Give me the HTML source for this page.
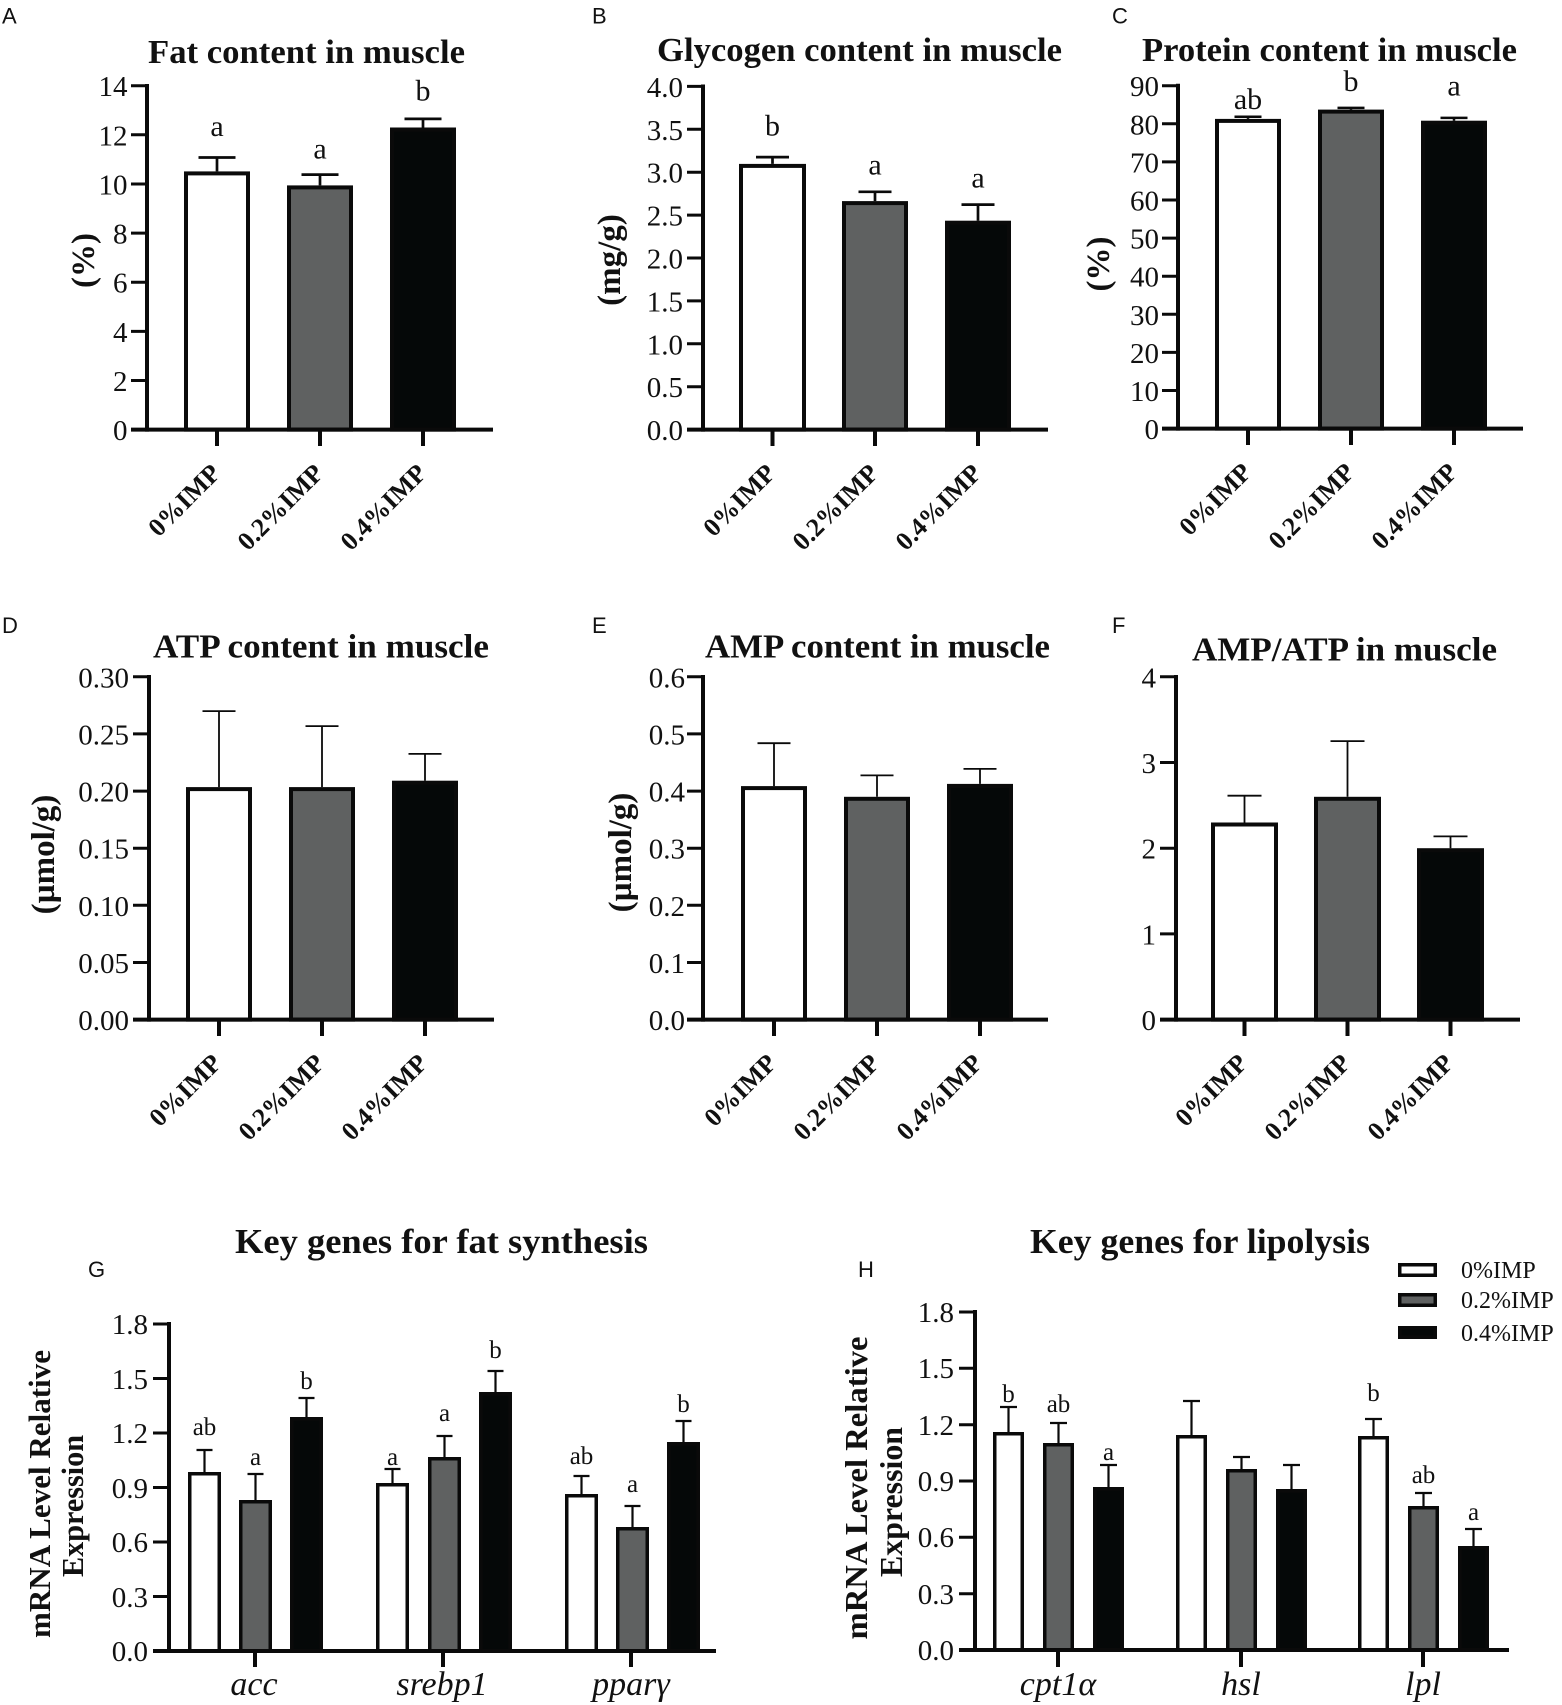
<!DOCTYPE html>
<html>
<head>
<meta charset="utf-8">
<style>
  html,body{margin:0;padding:0;background:#fff;}
  svg{display:block;}
  .t{font-family:"Liberation Serif","Times New Roman",serif;}
  .tb{font-family:"Liberation Serif","Times New Roman",serif;font-weight:bold;}
  .tick{font-family:"Liberation Serif","Times New Roman",serif;font-size:29px;fill:#111;text-anchor:end;}
  .let{font-family:"Liberation Serif","Times New Roman",serif;font-size:30px;fill:#111;text-anchor:middle;}
  .letg{font-family:"Liberation Serif","Times New Roman",serif;font-size:25px;fill:#111;text-anchor:middle;}
  .xl{font-family:"Liberation Serif","Times New Roman",serif;font-weight:bold;font-size:26px;fill:#111;text-anchor:end;}
  .pl{font-family:"Liberation Sans",Arial,sans-serif;font-size:22px;fill:#111;}
  .gi{font-family:"Liberation Serif","Times New Roman",serif;font-style:italic;font-size:34px;fill:#111;text-anchor:middle;}
</style>
</head>
<body>
<svg width="1562" height="1705" viewBox="0 0 1562 1705" xmlns="http://www.w3.org/2000/svg">
<rect width="1562" height="1705" fill="#fff"/>

<!-- Panel letters -->
<text class="pl" x="2" y="23.5">A</text>
<text class="pl" x="592" y="23.5">B</text>
<text class="pl" x="1112" y="23.5">C</text>
<text class="pl" x="2" y="633">D</text>
<text class="pl" x="592" y="633">E</text>
<text class="pl" x="1112" y="633">F</text>
<text class="pl" x="88" y="1277">G</text>
<text class="pl" x="858" y="1277">H</text>

<!-- Titles -->
<g class="tb" font-size="34" fill="#111">
  <text x="148" y="63" textLength="317" lengthAdjust="spacingAndGlyphs">Fat content in muscle</text>
  <text x="657" y="61" textLength="405" lengthAdjust="spacingAndGlyphs">Glycogen content in muscle</text>
  <text x="1142" y="61" textLength="375" lengthAdjust="spacingAndGlyphs">Protein content in muscle</text>
  <text x="153" y="657.5" textLength="336" lengthAdjust="spacingAndGlyphs">ATP content in muscle</text>
  <text x="705" y="657.5" textLength="345" lengthAdjust="spacingAndGlyphs">AMP content in muscle</text>
  <text x="1192" y="660.5" textLength="305" lengthAdjust="spacingAndGlyphs">AMP/ATP in muscle</text>
</g>
<g class="tb" font-size="35" fill="#111">
  <text x="235" y="1253" textLength="413" lengthAdjust="spacingAndGlyphs">Key genes for fat synthesis</text>
  <text x="1030" y="1253" textLength="340" lengthAdjust="spacingAndGlyphs">Key genes for lipolysis</text>
</g>

<!-- Y axis labels -->
<g class="tb" font-size="33" fill="#111" text-anchor="middle">
  <text transform="translate(94,260.5) rotate(-90)">(%)</text>
  <text transform="translate(620,260) rotate(-90)">(mg/g)</text>
  <text transform="translate(1109,264) rotate(-90)">(%)</text>
  <text transform="translate(54,854.5) rotate(-90)">(µmol/g)</text>
  <text transform="translate(631,852.5) rotate(-90)">(µmol/g)</text>
</g>
<g class="tb" fill="#111" text-anchor="middle">
  <text font-size="31" transform="translate(50,1494) rotate(-90)" textLength="288" lengthAdjust="spacingAndGlyphs">mRNA Level Relative</text>
  <text font-size="31" transform="translate(83,1506) rotate(-90)" textLength="142" lengthAdjust="spacingAndGlyphs">Expression</text>
  <text font-size="32" transform="translate(867,1488) rotate(-90)" textLength="303" lengthAdjust="spacingAndGlyphs">mRNA Level Relative</text>
  <text font-size="32" transform="translate(902,1502) rotate(-90)" textLength="150" lengthAdjust="spacingAndGlyphs">Expression</text>
</g>

<!-- ================= Panel A ================= -->
<g>
  <rect x="186" y="173.4" width="62" height="256.2" fill="#ffffff" stroke="#0a0a0a" stroke-width="4"/>
  <rect x="289" y="187.4" width="62" height="242.2" fill="#5f6161" stroke="#0a0a0a" stroke-width="4"/>
  <rect x="392" y="129.5" width="62" height="300.1" fill="#050808" stroke="#0a0a0a" stroke-width="4"/>
  <g stroke="#0a0a0a" stroke-width="2.7" fill="none">
    <path d="M217 171.4V157.5M198.5 157.5H235.5"/>
    <path d="M320 185.4V174.6M301.5 174.6H338.5"/>
    <path d="M423 127.5V118.9M404.5 118.9H441.5"/>
  </g>
  <g stroke="#0a0a0a" stroke-width="4" fill="none">
    <path d="M147 84V431.6"/>
    <path d="M131 429.6H493"/>
    <path d="M217 429.6V446M320 429.6V446M423 429.6V446"/>
  </g>
  <g stroke="#0a0a0a" stroke-width="3">
    <path d="M131 85.7H147M131 134.8H147M131 184H147M131 233.1H147M131 282.2H147M131 331.4H147M131 380.5H147"/>
  </g>
  <text class="tick" x="127.5" y="96.2">14</text>
  <text class="tick" x="127.5" y="145.3">12</text>
  <text class="tick" x="127.5" y="194.5">10</text>
  <text class="tick" x="127.5" y="243.6">8</text>
  <text class="tick" x="127.5" y="292.7">6</text>
  <text class="tick" x="127.5" y="341.9">4</text>
  <text class="tick" x="127.5" y="391">2</text>
  <text class="tick" x="127.5" y="440.1">0</text>
  <text class="let" x="217" y="136">a</text>
  <text class="let" x="320" y="158.5">a</text>
  <text class="let" x="423" y="100.5">b</text>
  <text class="xl" transform="translate(222,474.6) rotate(-45)">0%IMP</text>
  <text class="xl" transform="translate(325,474.6) rotate(-45)">0.2%IMP</text>
  <text class="xl" transform="translate(428,474.6) rotate(-45)">0.4%IMP</text>
</g>

<!-- ================= Panel B ================= -->
<g>
  <rect x="741" y="165.9" width="63" height="263.7" fill="#ffffff" stroke="#0a0a0a" stroke-width="4"/>
  <rect x="844" y="203.1" width="62" height="226.5" fill="#5f6161" stroke="#0a0a0a" stroke-width="4"/>
  <rect x="947" y="222.7" width="62" height="206.9" fill="#050808" stroke="#0a0a0a" stroke-width="4"/>
  <g stroke="#0a0a0a" stroke-width="2.7" fill="none">
    <path d="M772.5 163.9V157.1M756 157.1H789"/>
    <path d="M875 201.1V191.8M858.5 191.8H891.5"/>
    <path d="M978 220.7V204.6M961.5 204.6H994.5"/>
  </g>
  <g stroke="#0a0a0a" stroke-width="4" fill="none">
    <path d="M703 84.5V431.6"/>
    <path d="M687 429.6H1048"/>
    <path d="M772.5 429.6V446M875 429.6V446M978 429.6V446"/>
  </g>
  <g stroke="#0a0a0a" stroke-width="3">
    <path d="M687 86.4H703M687 129.3H703M687 172.2H703M687 215.1H703M687 258H703M687 300.9H703M687 343.8H703M687 386.7H703"/>
  </g>
  <text class="tick" x="683" y="96.9">4.0</text>
  <text class="tick" x="683" y="139.8">3.5</text>
  <text class="tick" x="683" y="182.7">3.0</text>
  <text class="tick" x="683" y="225.6">2.5</text>
  <text class="tick" x="683" y="268.5">2.0</text>
  <text class="tick" x="683" y="311.4">1.5</text>
  <text class="tick" x="683" y="354.3">1.0</text>
  <text class="tick" x="683" y="397.2">0.5</text>
  <text class="tick" x="683" y="440.1">0.0</text>
  <text class="let" x="772.5" y="135.7">b</text>
  <text class="let" x="875" y="174.3">a</text>
  <text class="let" x="978" y="187.5">a</text>
  <text class="xl" transform="translate(777,474.6) rotate(-45)">0%IMP</text>
  <text class="xl" transform="translate(880,474.6) rotate(-45)">0.2%IMP</text>
  <text class="xl" transform="translate(983,474.6) rotate(-45)">0.4%IMP</text>
</g>

<!-- ================= Panel C ================= -->
<g>
  <rect x="1217" y="120.9" width="62" height="307.7" fill="#ffffff" stroke="#0a0a0a" stroke-width="4"/>
  <rect x="1320" y="111.6" width="62" height="317" fill="#5f6161" stroke="#0a0a0a" stroke-width="4"/>
  <rect x="1423" y="122.7" width="62" height="305.9" fill="#050808" stroke="#0a0a0a" stroke-width="4"/>
  <g stroke="#0a0a0a" stroke-width="2.5" fill="none">
    <path d="M1248 118.9V116.8M1234.5 116.8H1261.5"/>
    <path d="M1351 109.6V107.9M1337.5 107.9H1364.5"/>
    <path d="M1454 120.7V117.9M1440.5 117.9H1467.5"/>
  </g>
  <g stroke="#0a0a0a" stroke-width="4" fill="none">
    <path d="M1178 83.8V430.6"/>
    <path d="M1162 428.6H1523"/>
    <path d="M1248 428.6V445M1351 428.6V445M1454 428.6V445"/>
  </g>
  <g stroke="#0a0a0a" stroke-width="3">
    <path d="M1162 85.7H1178M1162 123.8H1178M1162 161.9H1178M1162 200H1178M1162 238.1H1178M1162 276.2H1178M1162 314.3H1178M1162 352.4H1178M1162 390.5H1178"/>
  </g>
  <text class="tick" x="1159" y="96.2">90</text>
  <text class="tick" x="1159" y="134.3">80</text>
  <text class="tick" x="1159" y="172.4">70</text>
  <text class="tick" x="1159" y="210.5">60</text>
  <text class="tick" x="1159" y="248.6">50</text>
  <text class="tick" x="1159" y="286.7">40</text>
  <text class="tick" x="1159" y="324.8">30</text>
  <text class="tick" x="1159" y="362.9">20</text>
  <text class="tick" x="1159" y="401">10</text>
  <text class="tick" x="1159" y="439.1">0</text>
  <text class="let" x="1248" y="109">ab</text>
  <text class="let" x="1351" y="91">b</text>
  <text class="let" x="1454" y="95.7">a</text>
  <text class="xl" transform="translate(1253,473.6) rotate(-45)">0%IMP</text>
  <text class="xl" transform="translate(1356,473.6) rotate(-45)">0.2%IMP</text>
  <text class="xl" transform="translate(1459,473.6) rotate(-45)">0.4%IMP</text>
</g>

<!-- ================= Panel D ================= -->
<g>
  <rect x="188" y="789.1" width="62" height="230.5" fill="#ffffff" stroke="#0a0a0a" stroke-width="4"/>
  <rect x="291" y="789.1" width="62" height="230.5" fill="#5f6161" stroke="#0a0a0a" stroke-width="4"/>
  <rect x="394" y="782.7" width="62" height="236.9" fill="#050808" stroke="#0a0a0a" stroke-width="4"/>
  <g stroke="#0a0a0a" stroke-width="1.8" fill="none">
    <path d="M219 787.1V711.1M202.5 711.1H235.5"/>
    <path d="M322 787.1V726.1M305.5 726.1H338.5"/>
    <path d="M425 780.7V753.9M408.5 753.9H441.5"/>
  </g>
  <g stroke="#0a0a0a" stroke-width="4" fill="none">
    <path d="M149 675V1021.6"/>
    <path d="M133 1019.6H494"/>
    <path d="M219 1019.6V1036M322 1019.6V1036M425 1019.6V1036"/>
  </g>
  <g stroke="#0a0a0a" stroke-width="3">
    <path d="M133 676.8H149M133 733.9H149M133 791.1H149M133 848.2H149M133 905.3H149M133 962.5H149"/>
  </g>
  <text class="tick" x="129" y="687.3">0.30</text>
  <text class="tick" x="129" y="744.4">0.25</text>
  <text class="tick" x="129" y="801.6">0.20</text>
  <text class="tick" x="129" y="858.7">0.15</text>
  <text class="tick" x="129" y="915.8">0.10</text>
  <text class="tick" x="129" y="973">0.05</text>
  <text class="tick" x="129" y="1030.1">0.00</text>
  <text class="xl" transform="translate(223,1064.6) rotate(-45)">0%IMP</text>
  <text class="xl" transform="translate(326,1064.6) rotate(-45)">0.2%IMP</text>
  <text class="xl" transform="translate(429,1064.6) rotate(-45)">0.4%IMP</text>
</g>

<!-- ================= Panel E ================= -->
<g>
  <rect x="743" y="788.1" width="62" height="231.5" fill="#ffffff" stroke="#0a0a0a" stroke-width="4"/>
  <rect x="846" y="798.8" width="62" height="220.8" fill="#5f6161" stroke="#0a0a0a" stroke-width="4"/>
  <rect x="949" y="785.9" width="62" height="233.7" fill="#050808" stroke="#0a0a0a" stroke-width="4"/>
  <g stroke="#0a0a0a" stroke-width="1.8" fill="none">
    <path d="M774 786.1V743.2M757.5 743.2H790.5"/>
    <path d="M877 796.8V775.4M860.5 775.4H893.5"/>
    <path d="M980 783.9V768.9M963.5 768.9H996.5"/>
  </g>
  <g stroke="#0a0a0a" stroke-width="4" fill="none">
    <path d="M703 675V1021.6"/>
    <path d="M687 1019.6H1048"/>
    <path d="M774 1019.6V1036M877 1019.6V1036M980 1019.6V1036"/>
  </g>
  <g stroke="#0a0a0a" stroke-width="3">
    <path d="M687 676.8H703M687 733.9H703M687 791.1H703M687 848.2H703M687 905.3H703M687 962.5H703"/>
  </g>
  <text class="tick" x="685" y="687.3">0.6</text>
  <text class="tick" x="685" y="744.4">0.5</text>
  <text class="tick" x="685" y="801.6">0.4</text>
  <text class="tick" x="685" y="858.7">0.3</text>
  <text class="tick" x="685" y="915.8">0.2</text>
  <text class="tick" x="685" y="973">0.1</text>
  <text class="tick" x="685" y="1030.1">0.0</text>
  <text class="xl" transform="translate(778,1064.6) rotate(-45)">0%IMP</text>
  <text class="xl" transform="translate(881,1064.6) rotate(-45)">0.2%IMP</text>
  <text class="xl" transform="translate(984,1064.6) rotate(-45)">0.4%IMP</text>
</g>

<!-- ================= Panel F ================= -->
<g>
  <rect x="1213" y="824.5" width="63" height="195.1" fill="#ffffff" stroke="#0a0a0a" stroke-width="4"/>
  <rect x="1316" y="798.8" width="63" height="220.8" fill="#5f6161" stroke="#0a0a0a" stroke-width="4"/>
  <rect x="1419" y="850.2" width="63" height="169.4" fill="#050808" stroke="#0a0a0a" stroke-width="4"/>
  <g stroke="#0a0a0a" stroke-width="1.8" fill="none">
    <path d="M1244.5 822.5V795.7M1227.5 795.7H1261.5"/>
    <path d="M1347.5 796.8V741.1M1330.5 741.1H1364.5"/>
    <path d="M1450.5 848.2V836.4M1433.5 836.4H1467.5"/>
  </g>
  <g stroke="#0a0a0a" stroke-width="4" fill="none">
    <path d="M1176 675V1021.6"/>
    <path d="M1160 1019.6H1520"/>
    <path d="M1244.5 1019.6V1036M1347.5 1019.6V1036M1450.5 1019.6V1036"/>
  </g>
  <g stroke="#0a0a0a" stroke-width="3">
    <path d="M1160 676.8H1176M1160 762.5H1176M1160 848.2H1176M1160 933.9H1176"/>
  </g>
  <text class="tick" x="1156" y="687.3">4</text>
  <text class="tick" x="1156" y="773">3</text>
  <text class="tick" x="1156" y="858.7">2</text>
  <text class="tick" x="1156" y="944.4">1</text>
  <text class="tick" x="1156" y="1030.1">0</text>
  <text class="xl" transform="translate(1249,1064.6) rotate(-45)">0%IMP</text>
  <text class="xl" transform="translate(1352,1064.6) rotate(-45)">0.2%IMP</text>
  <text class="xl" transform="translate(1455,1064.6) rotate(-45)">0.4%IMP</text>
</g>

<!-- ================= Panel G ================= -->
<g>
  <g stroke="#0a0a0a" stroke-width="3.5">
    <rect x="189.75" y="1473.75" width="29.5" height="177.25" fill="#ffffff"/>
    <rect x="240.75" y="1501.75" width="29.5" height="149.25" fill="#5f6161"/>
    <rect x="291.75" y="1418.75" width="29.5" height="232.25" fill="#050808"/>
    <rect x="377.75" y="1484.75" width="29.5" height="166.25" fill="#ffffff"/>
    <rect x="429.75" y="1458.75" width="29.5" height="192.25" fill="#5f6161"/>
    <rect x="480.75" y="1393.75" width="29.5" height="257.25" fill="#050808"/>
    <rect x="566.75" y="1495.75" width="29.5" height="155.25" fill="#ffffff"/>
    <rect x="617.75" y="1528.75" width="29.5" height="122.25" fill="#5f6161"/>
    <rect x="668.75" y="1443.75" width="29.5" height="207.25" fill="#050808"/>
  </g>
  <g stroke="#0a0a0a" stroke-width="2.2" fill="none">
    <path d="M204.5 1472V1450M196.5 1450H212.5"/>
    <path d="M255.5 1500V1474M247.5 1474H263.5"/>
    <path d="M306.5 1417V1398M298.5 1398H314.5"/>
    <path d="M392.5 1483V1469M384.5 1469H400.5"/>
    <path d="M444.5 1457V1436M436.5 1436H452.5"/>
    <path d="M495.5 1392V1371M487.5 1371H503.5"/>
    <path d="M581.5 1494V1476M573.5 1476H589.5"/>
    <path d="M632.5 1527V1506M624.5 1506H640.5"/>
    <path d="M683.5 1442V1421M675.5 1421H691.5"/>
  </g>
  <g stroke="#0a0a0a" stroke-width="4" fill="none">
    <path d="M169 1322V1653"/>
    <path d="M153 1651H716"/>
    <path d="M255 1651V1667M443 1651V1667M631 1651V1667"/>
  </g>
  <g stroke="#0a0a0a" stroke-width="3">
    <path d="M153 1324H169M153 1378.5H169M153 1433H169M153 1487.5H169M153 1542H169M153 1596.5H169"/>
  </g>
  <text class="tick" x="148" y="1334">1.8</text>
  <text class="tick" x="148" y="1389">1.5</text>
  <text class="tick" x="148" y="1443">1.2</text>
  <text class="tick" x="148" y="1498">0.9</text>
  <text class="tick" x="148" y="1552">0.6</text>
  <text class="tick" x="148" y="1607">0.3</text>
  <text class="tick" x="148" y="1661">0.0</text>
  <text class="letg" x="204.5" y="1435">ab</text>
  <text class="letg" x="255.5" y="1465">a</text>
  <text class="letg" x="306.5" y="1389">b</text>
  <text class="letg" x="392.5" y="1465">a</text>
  <text class="letg" x="444.5" y="1421">a</text>
  <text class="letg" x="495.5" y="1358">b</text>
  <text class="letg" x="581.5" y="1464">ab</text>
  <text class="letg" x="632.5" y="1492">a</text>
  <text class="letg" x="683.5" y="1412">b</text>
  <text class="gi" x="254" y="1695">acc</text>
  <text class="gi" x="442" y="1695">srebp1</text>
  <text class="gi" x="631" y="1695">pparγ</text>
</g>

<!-- ================= Panel H ================= -->
<g>
  <g stroke="#0a0a0a" stroke-width="3.5">
    <rect x="994.75" y="1433.75" width="27.5" height="216.25" fill="#ffffff"/>
    <rect x="1044.75" y="1444.75" width="27.5" height="205.25" fill="#5f6161"/>
    <rect x="1094.75" y="1488.75" width="27.5" height="161.25" fill="#050808"/>
    <rect x="1177.75" y="1436.75" width="27.5" height="213.25" fill="#ffffff"/>
    <rect x="1227.75" y="1470.75" width="27.5" height="179.25" fill="#5f6161"/>
    <rect x="1277.75" y="1490.75" width="27.5" height="159.25" fill="#050808"/>
    <rect x="1359.75" y="1437.75" width="27.5" height="212.25" fill="#ffffff"/>
    <rect x="1409.75" y="1507.75" width="27.5" height="142.25" fill="#5f6161"/>
    <rect x="1459.75" y="1547.75" width="27.5" height="102.25" fill="#050808"/>
  </g>
  <g stroke="#0a0a0a" stroke-width="2.2" fill="none">
    <path d="M1008.5 1432V1407M1000 1407H1017"/>
    <path d="M1058.5 1443V1423M1050 1423H1067"/>
    <path d="M1108.5 1487V1465M1100 1465H1117"/>
    <path d="M1191.5 1435V1401M1183 1401H1200"/>
    <path d="M1241.5 1469V1457M1233 1457H1250"/>
    <path d="M1291.5 1489V1465M1283 1465H1300"/>
    <path d="M1373.5 1436V1419M1365 1419H1382"/>
    <path d="M1423.5 1506V1493M1415 1493H1432"/>
    <path d="M1473.5 1546V1529M1465 1529H1482"/>
  </g>
  <g stroke="#0a0a0a" stroke-width="4" fill="none">
    <path d="M975 1310V1652"/>
    <path d="M959 1650H1509"/>
    <path d="M1058 1650V1667M1241 1650V1667M1423 1650V1667"/>
  </g>
  <g stroke="#0a0a0a" stroke-width="3">
    <path d="M959 1312H975M959 1368.3H975M959 1424.7H975M959 1481H975M959 1537.3H975M959 1593.7H975"/>
  </g>
  <text class="tick" x="954" y="1322">1.8</text>
  <text class="tick" x="954" y="1378">1.5</text>
  <text class="tick" x="954" y="1435">1.2</text>
  <text class="tick" x="954" y="1491">0.9</text>
  <text class="tick" x="954" y="1547">0.6</text>
  <text class="tick" x="954" y="1604">0.3</text>
  <text class="tick" x="954" y="1660">0.0</text>
  <text class="letg" x="1008.5" y="1402">b</text>
  <text class="letg" x="1058.5" y="1412">ab</text>
  <text class="letg" x="1108.5" y="1460">a</text>
  <text class="letg" x="1373.5" y="1401">b</text>
  <text class="letg" x="1423.5" y="1483">ab</text>
  <text class="letg" x="1473.5" y="1520">a</text>
  <text class="gi" x="1058" y="1695">cpt1α</text>
  <text class="gi" x="1241" y="1695">hsl</text>
  <text class="gi" x="1423" y="1695">lpl</text>

  <!-- Legend -->
  <g stroke="#0a0a0a" stroke-width="3.5">
    <rect x="1399.75" y="1264.75" width="35.5" height="10.5" fill="#ffffff"/>
    <rect x="1399.75" y="1294.75" width="35.5" height="10.5" fill="#5f6161"/>
    <rect x="1399.75" y="1327.75" width="35.5" height="9.5" fill="#050808"/>
  </g>
  <g class="t" font-size="24" fill="#111">
    <text x="1461" y="1278">0%IMP</text>
    <text x="1461" y="1308">0.2%IMP</text>
    <text x="1461" y="1341">0.4%IMP</text>
  </g>
</g>
</svg>
</body>
</html>
